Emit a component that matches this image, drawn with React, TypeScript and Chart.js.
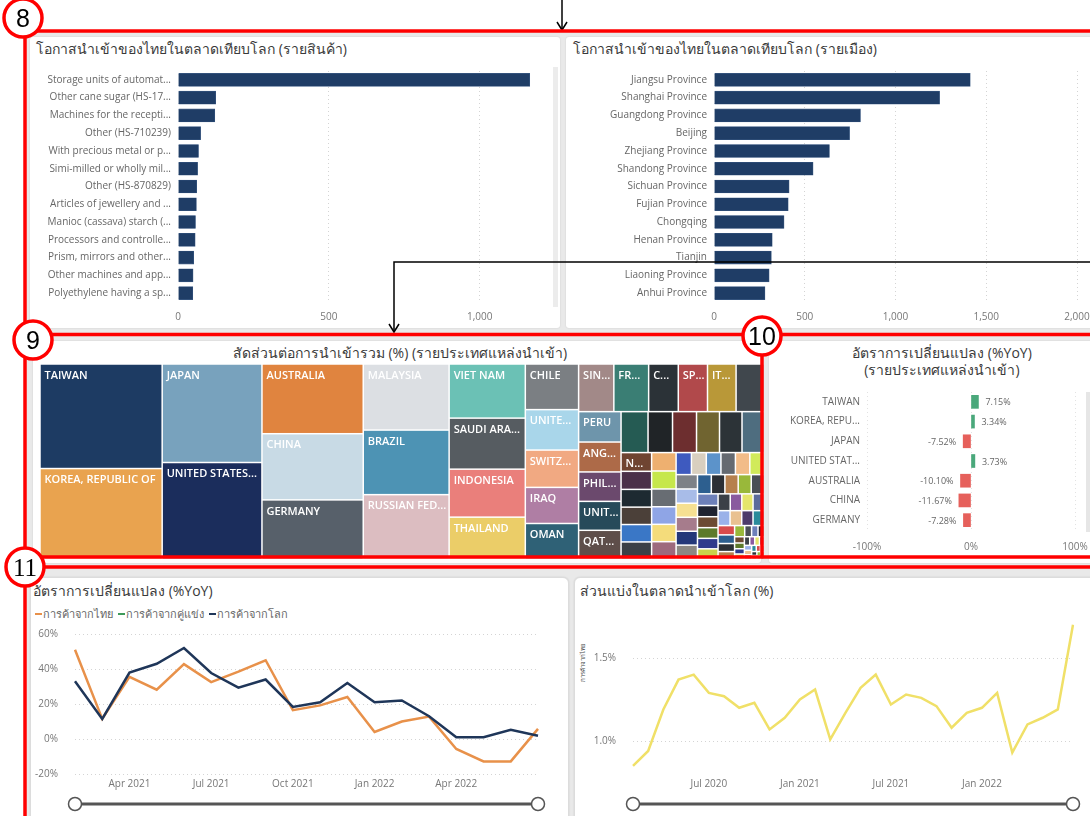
import React, { useEffect, useRef } from 'react';
import { Chart, registerables } from 'chart.js';

Chart.register(...registerables);

const FONT = "'Segoe UI', 'Open Sans', 'Noto Sans', sans-serif";

// ---------------- data ----------------
const productLabels = [
  'Storage units of automat...', 'Other cane sugar (HS-17...', 'Machines for the recepti...', 'Other (HS-710239)',
  'With precious metal or p...', 'Simi-milled or wholly mil...', 'Other (HS-870829)', 'Articles of jewellery and ...',
  'Manioc (cassava) starch (...', 'Processors and controlle...', 'Prism, mirrors and other...', 'Other machines and app...',
  'Polyethylene having a sp...',
];
const productValues = [1166, 125, 122, 75, 68, 65, 62, 61, 58, 57, 52, 50, 49];
const productTicks = [0, 500, 1000];

const provinceLabels = [
  'Jiangsu Province', 'Shanghai Province', 'Guangdong Province', 'Beijing', 'Zhejiang Province', 'Shandong Province',
  'Sichuan Province', 'Fujian Province', 'Chongqing', 'Henan Province', 'Tianjin', 'Liaoning Province', 'Anhui Province',
];
const provinceValues = [1412, 1243, 807, 747, 636, 546, 414, 409, 386, 321, 316, 304, 281];
const provinceTicks = [0, 500, 1000, 1500, 2000];

const sourceCountries = [
  'TAIWAN', 'KOREA, REPUBLIC OF', 'JAPAN', 'UNITED STATES OF AMERICA', 'AUSTRALIA', 'CHINA', 'GERMANY',
  'MALAYSIA', 'BRAZIL', 'RUSSIAN FEDERATION', 'VIET NAM', 'SAUDI ARABIA', 'INDONESIA', 'THAILAND',
  'CHILE', 'UNITED KINGDOM', 'SWITZERLAND', 'IRAQ', 'OMAN', 'SINGAPORE', 'FRANCE', 'CANADA', 'SPAIN', 'ITALY', '',
  'PERU', 'ANGOLA', 'PHILIPPINES', 'UNITED ARAB EMIRATES', 'QATAR', '', '', '', '', '', '', 'NETHERLANDS',
];
const sourceImportValues = [
  12480, 10800, 9604, 9408, 6900, 6550, 5850, 5544, 5420, 5400, 4028, 3800, 3572, 3116,
  2376, 2106, 1944, 1880, 1850, 1640, 1620, 1380, 1360, 1330, 1300,
  1260, 1240, 1220, 1200, 1190,
  1080, 980, 960, 920, 900, 880,
  560, 540, 530, 520, 520, 510,
  440, 430, 425, 420, 415, 414,
  330, 320, 315, 312, 310, 305,
  300, 298, 294, 292, 290, 290,
  260, 255, 250, 245, 240, 235, 225, 220, 215, 210, 205, 200,
  190, 185, 180, 175, 170, 165, 160, 150, 140, 130, 120, 110,
  75, 70, 65, 60, 55, 50, 48, 45, 42, 40, 38, 35,
  32, 30, 28, 25, 22, 20, 18, 16, 14, 12, 10,
];
const treemapColors = [
  '#1d3b63', '#e9a34f', '#78a2bd', '#1b2d5c', '#e0843f', '#c8dae5', '#57606a', '#dcdfe3', '#4d93b4', '#dcbdc1',
  '#6bc1b5', '#565c61', '#ea7f7b', '#ebcd68', '#7b7f83', '#a9d6ea', '#f1a982', '#af7ea4', '#2f6176', '#a28988',
  '#3a7e74', '#2b3237', '#b1494b', '#b99838', '#40474d', '#6e95ab', '#ad6a48', '#6b496d', '#274a5a', '#5e4e4a',
  '#255b53', '#202427', '#6d2e2f', '#706430', '#2c3337', '#4e6d7f',
  '#6f4431', '#4b3049', '#1d2a31', '#4b4039', '#3a77c6', '#3b4046',
  '#eeb070', '#c6e74b', '#686d73', '#8fa5e6', '#f4dc7b', '#9d6a7d',
  '#3e5abf', '#d8cfbf', '#5c93ca', '#656a71', '#f2bc88', '#d1ea5a',
  '#7d8187', '#a8bce8', '#f6e092', '#a67c8c', '#243879', '#8c8883',
];
const treemapTailColors = [
  '#2d5f8f', '#2b2f35', '#b6804e', '#99b83a', '#4a4f56', '#6d80b9', '#1f2331', '#6c4b33', '#5d7a2b', '#2f3a8c',
  '#cad34b', '#3b4047', '#8a5a9f', '#e5e56b', '#5b6b9b', '#9bb1e9', '#e9c191', '#4d3b6b', '#2b8b9b', '#d94b4b',
];

const yoyCountries = ['TAIWAN', 'KOREA, REPU...', 'JAPAN', 'UNITED STAT...', 'AUSTRALIA', 'CHINA', 'GERMANY'];
const yoyValues = [7.15, 3.34, -7.52, 3.73, -10.1, -11.67, -7.28];
const yoyTicks = [-100, 0, 100];

const yoyMonths = [
  'Feb 2021', 'Mar 2021', 'Apr 2021', 'May 2021', 'Jun 2021', 'Jul 2021', 'Aug 2021', 'Sep 2021', 'Oct 2021',
  'Nov 2021', 'Dec 2021', 'Jan 2022', 'Feb 2022', 'Mar 2022', 'Apr 2022', 'May 2022', 'Jun 2022', 'Jul 2022',
];
const yoyMonthTicks = ['Apr 2021', 'Jul 2021', 'Oct 2021', 'Jan 2022', 'Apr 2022'];
const thaiYoY = [51, 11.5, 35.5, 28.2, 42.8, 32.5, 38.5, 45, 16.5, 19.2, 24, 4, 10, 12.8, -5.7, -12.8, -12.8, 5.8];
const competitorYoY: (number | null)[] = [];
const worldYoY = [33, 11.5, 38, 43, 52, 37.7, 29.3, 34, 18.3, 21, 32, 21, 22, 13, 1, 1, 5.3, 1.9];
const seriesNames = ['การค้าจากไทย', 'การค้าจากคู่แข่ง', 'การค้าจากโลก'];

const shareMonths = [
  'Feb 2020', 'Mar 2020', 'Apr 2020', 'May 2020', 'Jun 2020', 'Jul 2020', 'Aug 2020', 'Sep 2020', 'Oct 2020',
  'Nov 2020', 'Dec 2020', 'Jan 2021', 'Feb 2021', 'Mar 2021', 'Apr 2021', 'May 2021', 'Jun 2021', 'Jul 2021',
  'Aug 2021', 'Sep 2021', 'Oct 2021', 'Nov 2021', 'Dec 2021', 'Jan 2022', 'Feb 2022', 'Mar 2022', 'Apr 2022',
  'May 2022', 'Jun 2022', 'Jul 2022',
];
const shareMonthTicks = ['Jul 2020', 'Jan 2021', 'Jul 2021', 'Jan 2022'];
const thaiShare = [
  0.85, 0.94, 1.19, 1.37, 1.4, 1.29, 1.27, 1.2, 1.23, 1.07, 1.14, 1.25, 1.31, 1.01, 1.17,
  1.32, 1.4, 1.22, 1.28, 1.26, 1.21, 1.08, 1.17, 1.2, 1.29, 0.93, 1.1, 1.14, 1.19, 1.7,
];
const shareTicks = [1.0, 1.5];

// ---------------- helpers ----------------
const NAVY = '#1f3d66';
const TICK = '#777777';
const CAT = '#666666';
const GRID = '#d4d4d4';
const CLEAR = 'rgba(0,0,0,0)';

const fixW = (w: number) => (s: any) => { s.width = w; };
const fixH = (h: number) => (s: any) => { s.height = h; };
const setTicks = (vals: number[]) => (s: any) => { s.ticks = vals.map((v) => ({ value: v })); };

function squarify(values: number[], X0: number, Y0: number, X1: number, Y1: number) {
  const ratio = (1 + Math.sqrt(5)) / 2;
  const out: { i: number; x0: number; y0: number; x1: number; y1: number }[] = [];
  let x0 = X0, y0 = Y0;
  const x1 = X1, y1 = Y1;
  let i0 = 0, i1 = 0;
  const n = values.length;
  let value = values.reduce((a, b) => a + b, 0);
  while (i0 < n) {
    const dx = x1 - x0, dy = y1 - y0;
    let sumValue = values[i1++];
    let minValue = sumValue, maxValue = sumValue;
    const alpha = Math.max(dy / dx, dx / dy) / (value * ratio);
    let beta = sumValue * sumValue * alpha;
    let minRatio = Math.max(maxValue / beta, beta / minValue);
    for (; i1 < n; ++i1) {
      const nv = values[i1];
      sumValue += nv;
      if (nv < minValue) minValue = nv;
      if (nv > maxValue) maxValue = nv;
      beta = sumValue * sumValue * alpha;
      const newRatio = Math.max(maxValue / beta, beta / minValue);
      if (newRatio > minRatio) { sumValue -= nv; break; }
      minRatio = newRatio;
    }
    if (dx < dy) {
      const yy = value ? y0 + (dy * sumValue) / value : y1;
      let x = x0;
      const k = (x1 - x0) / sumValue;
      for (let i = i0; i < i1; i++) {
        const w = values[i] * k;
        out.push({ i, x0: x, y0, x1: x + w, y1: yy });
        x += w;
      }
      y0 = yy;
    } else {
      const xx = value ? x0 + (dx * sumValue) / value : x1;
      let y = y0;
      const k = (y1 - y0) / sumValue;
      for (let i = i0; i < i1; i++) {
        const h = values[i] * k;
        out.push({ i, x0, y0: y, x1: xx, y1: y + h });
        y += h;
      }
      x0 = xx;
    }
    value -= sumValue;
    i0 = i1;
  }
  return out;
}

const treemapPlugin = {
  id: 'treemapCells',
  afterDraw(chart: any) {
    const { ctx, chartArea } = chart;
    const rects = squarify(sourceImportValues, chartArea.left, chartArea.top, chartArea.right, chartArea.bottom);
    ctx.save();
    for (const r of rects) {
      const color = r.i < treemapColors.length
        ? treemapColors[r.i]
        : treemapTailColors[(r.i - treemapColors.length) % treemapTailColors.length];
      const w = r.x1 - r.x0, h = r.y1 - r.y0;
      ctx.fillStyle = color;
      ctx.fillRect(r.x0 + 0.75, r.y0 + 0.75, Math.max(0, w - 1.5), Math.max(0, h - 1.5));
      const name = sourceCountries[r.i] || '';
      if (!name) continue;
      ctx.font = `600 11px ${FONT}`;
      ctx.fillStyle = '#ffffff';
      ctx.textBaseline = 'top';
      ctx.textAlign = 'left';
      const avail = w - 7;
      let text = name;
      if (ctx.measureText(text).width > avail) {
        let k = name.length - 1;
        while (k > 0 && ctx.measureText(name.slice(0, k) + '...').width > avail) k--;
        text = k > 0 ? name.slice(0, k) + '...' : '';
      }
      if (text && h > 18) ctx.fillText(text, r.x0 + 4.5, r.y0 + 6);
    }
    ctx.restore();
  },
};

const barValueLabels = {
  id: 'barValueLabels',
  afterDatasetsDraw(chart: any) {
    const { ctx } = chart;
    const meta = chart.getDatasetMeta(0);
    const data = chart.data.datasets[0].data as number[];
    ctx.save();
    ctx.font = `9px ${FONT}`;
    ctx.fillStyle = '#666';
    ctx.textBaseline = 'middle';
    meta.data.forEach((el: any, i: number) => {
      const v = data[i];
      const txt = v.toFixed(2) + '%';
      if (v >= 0) {
        ctx.textAlign = 'left';
        ctx.fillText(txt, el.x + 7, el.y + 1);
      } else {
        ctx.textAlign = 'right';
        ctx.fillText(txt, el.x - 7, el.y + 1);
      }
    });
    ctx.restore();
  },
};

// category (y) axis whose label gap comes from an invisible tick mark, so it does not add top padding
const catAxis = (width: number, gap: number) => ({
  afterFit: fixW(width),
  grid: { display: true, drawOnChartArea: false, drawTicks: true, tickLength: gap, tickColor: CLEAR, color: CLEAR },
  border: { display: false },
  ticks: { padding: 0, color: CAT, font: { family: FONT, size: 10 }, autoSkip: false },
});

function hbarConfig(labels: string[], values: number[], max: number, ticks: number[], yW: number, padTop: number, padRight: number, xH: number): any {
  return {
    type: 'bar',
    data: {
      labels,
      datasets: [{ data: values, backgroundColor: NAVY, borderColor: '#3b5a84', borderWidth: 0.6, barThickness: 13 }],
    },
    options: {
      indexAxis: 'y',
      responsive: false,
      animation: false,
      devicePixelRatio: 1,
      layout: { padding: { top: padTop, right: padRight, left: 0, bottom: 0 } },
      plugins: { legend: { display: false }, tooltip: { enabled: false } },
      scales: {
        x: {
          min: 0,
          max,
          afterBuildTicks: setTicks(ticks),
          afterFit: fixH(xH),
          grid: {
            drawTicks: false,
            color: (c: any) => (c.tick && c.tick.value === 0 ? CLEAR : GRID),
          },
          border: { display: false, dash: [1, 3] },
          ticks: {
            padding: 9,
            color: TICK,
            font: { family: FONT, size: 10 },
            maxRotation: 0,
            callback: (v: any) => Number(v).toLocaleString('en-US'),
          },
        },
        y: catAxis(yW, 7),
      },
    },
  };
}

function ChartBox({ left, top, width, height, make }: { left: number; top: number; width: number; height: number; make: () => any }) {
  const ref = useRef<HTMLCanvasElement>(null);
  useEffect(() => {
    const chart = new Chart(ref.current as HTMLCanvasElement, make());
    return () => chart.destroy();
  }, []);
  return (
    <canvas
      ref={ref}
      width={width}
      height={height}
      style={{ position: 'absolute', left, top, width, height, display: 'block' }}
    />
  );
}

// ---------------- chart configs ----------------
const productConfig = () => hbarConfig(productLabels, productValues, 1200, productTicks, 148, 9, 15, 30);
const provinceConfig = () => hbarConfig(provinceLabels, provinceValues, 2000, provinceTicks, 148, 9, 29, 30);

const treemapConfig = (): any => ({
  type: 'scatter',
  data: { datasets: [] },
  options: {
    responsive: false,
    animation: false,
    devicePixelRatio: 1,
    layout: { padding: 0 },
    plugins: { legend: { display: false }, tooltip: { enabled: false } },
    scales: { x: { display: false, min: 0, max: 1 }, y: { display: false, min: 0, max: 1 } },
  },
  plugins: [treemapPlugin],
});

const yoyBarConfig = (): any => ({
  type: 'bar',
  data: {
    labels: yoyCountries,
    datasets: [{
      data: yoyValues,
      backgroundColor: yoyValues.map((v) => (v >= 0 ? '#4aa87b' : '#e6605b')),
      barThickness: 13,
    }],
  },
  options: {
    indexAxis: 'y',
    responsive: false,
    animation: false,
    devicePixelRatio: 1,
    layout: { padding: { top: 7, right: 30, left: 0, bottom: 0 } },
    plugins: { legend: { display: false }, tooltip: { enabled: false } },
    scales: {
      x: {
        min: -100,
        max: 100,
        afterBuildTicks: setTicks(yoyTicks),
        afterFit: fixH(30),
        grid: { drawTicks: false, color: '#e2e2e2' },
        border: { display: false, dash: [1, 3] },
        ticks: { padding: 11, color: TICK, font: { family: FONT, size: 10 }, callback: (v: any) => v + '%' },
      },
      y: catAxis(92, 7),
    },
  },
  plugins: [barValueLabels],
});

const valueAxisGrid = (gap: number) => ({
  display: true, drawOnChartArea: true, drawTicks: true, tickLength: gap, tickColor: CLEAR, color: GRID,
});

const yoyLineConfig = (): any => ({
  type: 'line',
  data: {
    labels: yoyMonths,
    datasets: [
      { label: seriesNames[0], data: thaiYoY, borderColor: '#e8914a', borderWidth: 2.5, pointRadius: 0, order: 2 },
      { label: seriesNames[1], data: competitorYoY, borderColor: '#3e9a5a', borderWidth: 2.5, pointRadius: 0, order: 1 },
      { label: seriesNames[2], data: worldYoY, borderColor: '#1f3659', borderWidth: 2.5, pointRadius: 0, order: 0 },
    ],
  },
  options: {
    responsive: false,
    animation: false,
    devicePixelRatio: 1,
    layout: { padding: { top: 9, right: 29, left: 0, bottom: 0 } },
    plugins: { legend: { display: false }, tooltip: { enabled: false } },
    scales: {
      x: {
        afterFit: fixH(26),
        grid: { display: false, drawTicks: false },
        border: { display: false },
        ticks: {
          autoSkip: false, maxRotation: 0, minRotation: 0, padding: 4, color: TICK, font: { family: FONT, size: 10 },
          callback: (_v: any, i: number) => (yoyMonthTicks.includes(yoyMonths[i]) ? yoyMonths[i] : ''),
        },
      },
      y: {
        min: -20,
        max: 60,
        afterFit: fixW(45),
        grid: valueAxisGrid(17),
        border: { display: false, dash: [1, 3] },
        ticks: { stepSize: 20, padding: 0, color: TICK, font: { family: FONT, size: 10 }, callback: (v: any) => v + '%' },
      },
    },
  },
});

const shareLineConfig = (): any => ({
  type: 'line',
  data: {
    labels: shareMonths,
    datasets: [{ label: seriesNames[0], data: thaiShare, borderColor: '#f0e068', borderWidth: 2.5, pointRadius: 0 }],
  },
  options: {
    responsive: false,
    animation: false,
    devicePixelRatio: 1,
    layout: { padding: { top: 11.5, right: 22, left: 0, bottom: 0 } },
    plugins: { legend: { display: false }, tooltip: { enabled: false } },
    scales: {
      x: {
        afterFit: fixH(25.8),
        grid: { display: false, drawTicks: false },
        border: { display: false },
        ticks: {
          autoSkip: false, maxRotation: 0, minRotation: 0, padding: 4, color: TICK, font: { family: FONT, size: 10 },
          callback: (_v: any, i: number) => (shareMonthTicks.includes(shareMonths[i]) ? shareMonths[i] : ''),
        },
      },
      y: {
        min: 0.8,
        max: 1.75,
        afterBuildTicks: setTicks(shareTicks),
        afterFit: fixW(58),
        grid: valueAxisGrid(17),
        border: { display: false, dash: [1, 3] },
        ticks: { padding: 0, color: TICK, font: { family: FONT, size: 10 }, callback: (v: any) => Number(v).toFixed(1) + '%' },
      },
    },
  },
});

// ---------------- layout ----------------
const card = (left: number, top: number, width: number, height: number, radius = 3): React.CSSProperties => ({
  position: 'absolute', left, top, width, height, background: '#ffffff', borderRadius: radius,
  boxShadow: '0 0 2px rgba(0,0,0,0.12)',
});

const titleStyle = (left: number, top: number, extra: React.CSSProperties = {}): React.CSSProperties => ({
  position: 'absolute', left, top, fontFamily: FONT, fontSize: 14, lineHeight: '16px', color: '#3a3a3a',
  whiteSpace: 'nowrap', ...extra,
});

const legendColors = ['#e8914a', '#3e9a5a', '#1f3659'];

export default function App() {
  return (
    <div style={{ position: 'absolute', left: 0, top: 0, width: 1090, height: 816, overflow: 'hidden', background: '#ffffff' }}>
      <div style={{ position: 'absolute', left: 25, top: 32, width: 1065, height: 784, background: '#e9e9e9' }} />

      {/* cards */}
      <div style={card(30, 37, 530, 291)} />
      <div style={card(566, 37, 540, 291)} />
      <div style={card(33, 341, 728, 222)} />
      <div style={card(769, 341, 340, 222)} />
      <div style={{ ...card(30, 577, 537, 260, 6), border: '1px solid #dcdcdc' }} />
      <div style={{ ...card(574, 577, 540, 260, 6), border: '1px solid #dcdcdc' }} />

      {/* scrollbars */}
      <div style={{ position: 'absolute', left: 553, top: 67, width: 5, height: 240, background: '#ececec' }} />
      <div style={{ position: 'absolute', left: 1086, top: 392, width: 4, height: 140, background: '#e6e6e6' }} />

      {/* titles */}
      <div style={titleStyle(36, 41)}>โอกาสนำเข้าของไทยในตลาดเทียบโลก (รายสินค้า)</div>
      <div style={titleStyle(573, 41)}>โอกาสนำเข้าของไทยในตลาดเทียบโลก (รายเมือง)</div>
      <div style={titleStyle(40, 345, { width: 720, textAlign: 'center' })}>สัดส่วนต่อการนำเข้ารวม (%) (รายประเทศแหล่งนำเข้า)</div>
      <div style={titleStyle(782, 345, { width: 320, textAlign: 'center' })}>อัตราการเปลี่ยนแปลง (%YoY)</div>
      <div style={titleStyle(782, 362, { width: 320, textAlign: 'center' })}>(รายประเทศแหล่งนำเข้า)</div>
      <div style={titleStyle(33, 583)}>อัตราการเปลี่ยนแปลง (%YoY)</div>
      <div style={titleStyle(580, 583)}>ส่วนแบ่งในตลาดนำเข้าโลก (%)</div>

      {/* legend */}
      <div style={{ position: 'absolute', left: 35, top: 606, display: 'flex', gap: 5, fontFamily: FONT, fontSize: 11, lineHeight: '16px', color: '#666', whiteSpace: 'nowrap' }}>
        {seriesNames.map((name, i) => (
          <span key={name} style={{ display: 'inline-flex', alignItems: 'center' }}>
            <span style={{ display: 'inline-block', width: 7, height: 2, background: legendColors[i], marginRight: 1 }} />
            {name}
          </span>
        ))}
      </div>

      {/* rotated axis title */}
      <div style={{ position: 'absolute', left: 583, top: 662, transform: 'translate(-50%, -50%) rotate(-90deg)', fontFamily: FONT, fontSize: 6, color: '#444', whiteSpace: 'nowrap' }}>
        การค้าจากไทย
      </div>

      {/* charts */}
      <ChartBox left={30} top={62} width={525} height={270} make={productConfig} />
      <ChartBox left={566} top={62} width={540} height={270} make={provinceConfig} />
      <ChartBox left={40} top={364} width={724} height={195} make={treemapConfig} />
      <ChartBox left={775} top={385} width={330} height={175} make={yoyBarConfig} />
      <ChartBox left={30} top={625} width={537} height={175} make={yoyLineConfig} />
      <ChartBox left={575} top={605} width={520} height={195} make={shareLineConfig} />

      {/* annotation overlay */}
      <svg width={1090} height={816} style={{ position: 'absolute', left: 0, top: 0, pointerEvents: 'none' }}>
        {/* sliders */}
        <line x1={75} y1={804} x2={538} y2={804} stroke="#555" strokeWidth={3} />
        <circle cx={75} cy={804} r={6.5} fill="#fff" stroke="#555" strokeWidth={1.5} />
        <circle cx={538} cy={804} r={6.5} fill="#fff" stroke="#555" strokeWidth={1.5} />
        <line x1={633} y1={804} x2={1073} y2={804} stroke="#555" strokeWidth={3} />
        <circle cx={633} cy={804} r={6.5} fill="#fff" stroke="#555" strokeWidth={1.5} />
        <circle cx={1073} cy={804} r={6.5} fill="#fff" stroke="#555" strokeWidth={1.5} />

        {/* arrows */}
        <path d="M562,0 V30" stroke="#000" strokeWidth={1.5} fill="none" />
        <path d="M557,22 L562,30 L567,22" stroke="#000" strokeWidth={1.5} fill="none" />
        <path d="M1090,262 H394 V332" stroke="#000" strokeWidth={1.5} fill="none" />
        <path d="M389,324 L394,332 L399,324" stroke="#000" strokeWidth={1.5} fill="none" />

        {/* red boxes */}
        <g stroke="#ff0000" strokeWidth={3.5} fill="none">
          <path d="M24,31 H1090" />
          <path d="M25,31 V816" />
          <path d="M25,334.5 H1090" />
          <path d="M762,334.5 V557" />
          <path d="M25,557 H1090" />
          <path d="M25,567 H1090" />
        </g>

        {/* numbered circles */}
        <g stroke="#ff0000" strokeWidth={3.5} fill="#ffffff">
          <circle cx={23} cy={18} r={19} />
          <circle cx={33} cy={340} r={19} />
          <circle cx={762} cy={336} r={19} />
          <circle cx={25} cy={567} r={19} />
        </g>
        <g fill="#000" textAnchor="middle" fontSize={25}>
          <text x={23} y={27} fontFamily="'Liberation Sans', Arial, sans-serif">8</text>
          <text x={33} y={349} fontFamily="'Liberation Sans', Arial, sans-serif">9</text>
          <text x={762} y={345} fontFamily="'Liberation Sans', Arial, sans-serif">10</text>
          <text x={25} y={576} fontFamily="'Liberation Serif', 'Times New Roman', serif">11</text>
        </g>
      </svg>
    </div>
  );
}
